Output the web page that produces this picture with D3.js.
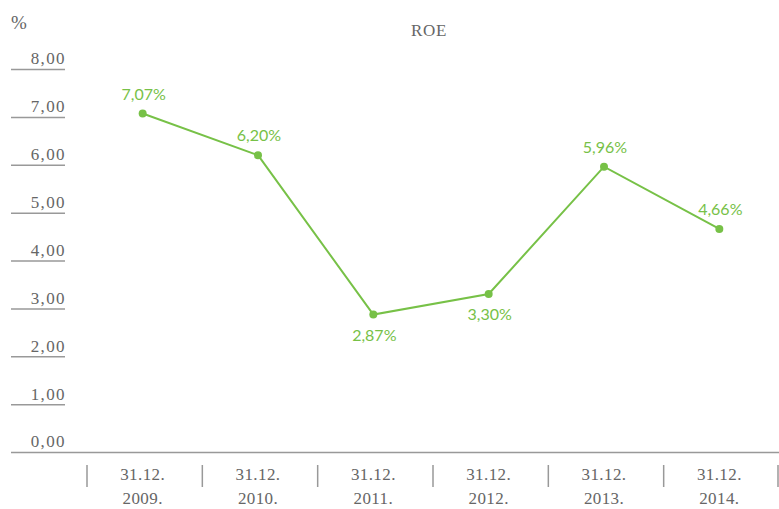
<!DOCTYPE html>
<html>
<head>
<meta charset="utf-8">
<script src="https://cdn.jsdelivr.net/npm/d3@7"></script>
<style>
  html, body { margin: 0; padding: 0; background: #fff; }
  svg { display: block; }
</style>
</head>
<body>
<svg id="chart" width="779" height="509"></svg>
<script>
const categories = ["31.12.|2009.", "31.12.|2010.", "31.12.|2011.", "31.12.|2012.", "31.12.|2013.", "31.12.|2014."];
const roeValues = [7.07, 6.20, 2.87, 3.30, 5.96, 4.66];
const valueLabels = ["7,07%", "6,20%", "2,87%", "3,30%", "5,96%", "4,66%"];
const labelBelow = [false, false, true, true, false, false];
const yTicks = [0, 1, 2, 3, 4, 5, 6, 7, 8];
const chartTitle = "ROE";
const unitLabel = "%";

const svg = d3.select("#chart");
const axisColor = "#999999";
const textColor = "#666666";
const green = "#77c147";
const serif = "'Liberation Serif', 'Times New Roman', serif";
const sans = "Lato, 'Noto Sans', sans-serif";

const x = d3.scaleBand().domain(categories).range([87, 779]).padding(0);
const y = d3.scaleLinear().domain([0, 8]).range([452, 69]);
const cx = c => x(c) + x.bandwidth() / 2 - 2;

// Title and unit
svg.append("text").attr("x", 429).attr("y", 36).attr("text-anchor", "middle")
  .attr("font-family", serif).attr("font-size", 17).attr("fill", textColor)
  .attr("letter-spacing", 0.6).text(chartTitle);
svg.append("text").attr("x", 11).attr("y", 29)
  .attr("font-family", serif).attr("font-size", 19).attr("fill", textColor).text(unitLabel);

// Y axis
const yAxis = d3.axisLeft(y).tickValues(yTicks).tickSize(0)
  .tickFormat(d => d3.format(".2f")(d).replace(".", ","));
const yg = svg.append("g").attr("transform", "translate(65,0)").call(yAxis);
yg.select(".domain").remove();
yg.selectAll(".tick text")
  .attr("x", 1).attr("dy", "-0.3em").attr("text-anchor", "end")
  .attr("font-family", serif).attr("font-size", 17).attr("fill", textColor)
  .attr("letter-spacing", 1.4);
yg.selectAll(".tick").append("line")
  .attr("x1", -54).attr("x2", d => d === 0 ? 714 : 0)
  .attr("y1", 0).attr("y2", 0)
  .attr("stroke", axisColor).attr("stroke-width", 1.5);

// X axis
const xAxis = d3.axisBottom(x).tickSize(0).tickFormat("");
const xg = svg.append("g").attr("transform", "translate(0,452)").call(xAxis);
xg.select(".domain").remove();
xg.selectAll(".tick").each(function(d) {
  const g = d3.select(this);
  const parts = d.split("|");
  g.append("text").attr("x", -2).attr("y", 28).attr("text-anchor", "middle")
    .attr("font-family", serif).attr("font-size", 17).attr("fill", textColor)
    .attr("letter-spacing", 0.4).text(parts[0]);
  g.append("text").attr("x", -2).attr("y", 52).attr("text-anchor", "middle")
    .attr("font-family", serif).attr("font-size", 17).attr("fill", textColor)
    .attr("letter-spacing", 0.4).text(parts[1]);
});
// separators
const seps = categories.map(c => x(c)).concat([x.range()[1]]);
svg.append("g").selectAll("line").data(seps).join("line")
  .attr("x1", d => Math.min(d, 778)).attr("x2", d => Math.min(d, 778))
  .attr("y1", 465).attr("y2", 487)
  .attr("stroke", axisColor).attr("stroke-width", 1.5);

// Line
const pts = categories.map((c, i) => ({c, v: roeValues[i], lab: valueLabels[i], below: labelBelow[i]}));
svg.append("path").datum(pts)
  .attr("d", d3.line().x(d => cx(d.c)).y(d => y(d.v)))
  .attr("fill", "none").attr("stroke", green).attr("stroke-width", 2);
svg.append("g").selectAll("circle").data(pts).join("circle")
  .attr("cx", d => cx(d.c)).attr("cy", d => y(d.v)).attr("r", 4).attr("fill", green);
svg.append("g").selectAll("text").data(pts).join("text")
  .attr("x", d => cx(d.c) + 1).attr("y", d => y(d.v) + (d.below ? 26 : -14))
  .attr("text-anchor", "middle")
  .attr("font-family", sans).attr("font-size", 16).attr("fill", green)
  .text(d => d.lab);
</script>
</body>
</html>
